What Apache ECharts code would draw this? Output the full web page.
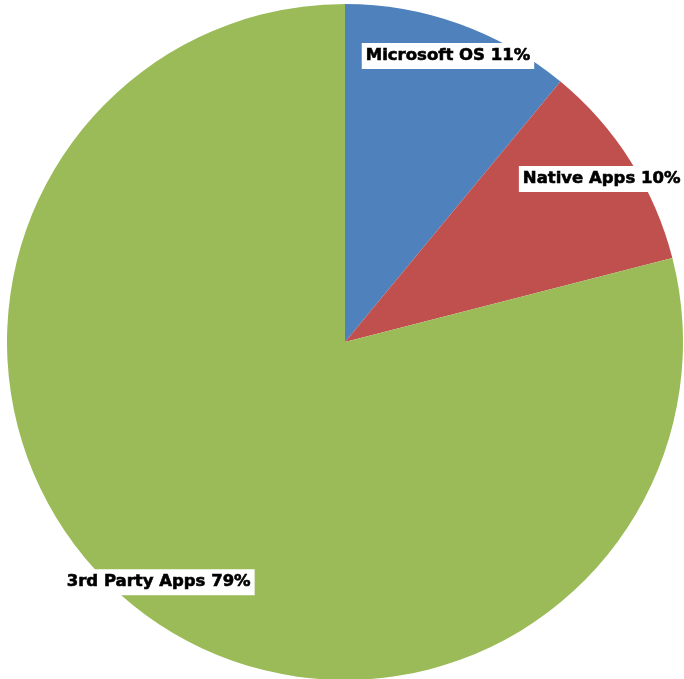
<!DOCTYPE html>
<html>
<head>
<meta charset="utf-8">
<script src="https://cdn.jsdelivr.net/npm/echarts@6/dist/echarts.min.js"></script>
<style>
  html, body { margin: 0; padding: 0; background: #fff; }
  #chart { width: 684px; height: 679px; }
</style>
</head>
<body>
<div id="chart"></div>
<script>
var categories = ['Microsoft OS', 'Native Apps', '3rd Party Apps'];
var shares = [11, 10, 79];
var sliceColors = ['#4F81BD', '#C0504D', '#9BBB59'];

var chart = echarts.init(document.getElementById('chart'));

var pieData = categories.map(function(name, i) {
    return { name: name, value: shares[i], itemStyle: { color: sliceColors[i] } };
});

var option = {
    animation: false,
    backgroundColor: '#ffffff',
    series: [{
        // the slices themselves
        type: 'pie',
        center: [345, 342],
        radius: [0, 338],
        startAngle: 90,
        clockwise: true,
        silent: true,
        label: { show: false },
        labelLine: { show: false },
        data: pieData
    }, {
        // transparent ring only used to put the labels near the rim
        type: 'pie',
        center: [345, 342],
        radius: [264, 338],
        startAngle: 90,
        clockwise: true,
        silent: true,
        itemStyle: { color: 'transparent' },
        labelLine: { show: false },
        label: {
            show: true,
            position: 'inside',
            formatter: function(p) { return p.name + ' ' + p.value + '%'; },
            fontFamily: 'DejaVu Sans',
            fontWeight: 'bold',
            fontSize: 16.5,
            color: '#000',
            textBorderColor: '#000',
            textBorderWidth: 0.6,
            backgroundColor: '#ffffff',
            padding: [5, 4, 4, 4],
            rotate: 0
        },
        data: categories.map(function(name, i) {
            return { name: name, value: shares[i] };
        })
    }]
};

chart.setOption(option);
</script>
</body>
</html>
